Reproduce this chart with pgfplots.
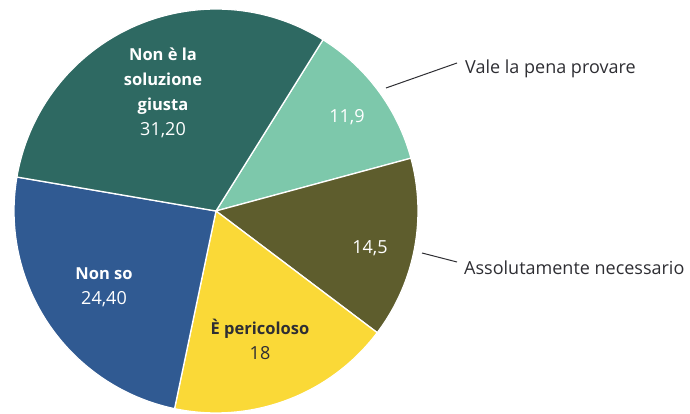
\documentclass[border=0pt]{standalone}
\usepackage{pgfplots}
\pgfplotsset{compat=1.18}
\usepackage{fontspec}
\setmainfont{Open Sans}
\definecolor{cDark}{HTML}{2E6962}
\definecolor{cLight}{HTML}{7DC8AB}
\definecolor{cOlive}{HTML}{5E5D2D}
\definecolor{cYellow}{HTML}{FAD937}
\definecolor{cBlue}{HTML}{305A92}
\definecolor{cText}{HTML}{2E2E33}
\begin{document}
\begin{tikzpicture}
% values (percent), clockwise from the top
\def\vVale{11.9}
\def\vAss{14.5}
\def\vPer{18}
\def\vNonSo{24.4}
\def\vNonE{31.2}
\pgfmathsetmacro\aS{58}
\pgfmathsetmacro\aA{\aS-3.6*\vVale}
\pgfmathsetmacro\aB{\aA-3.6*\vAss}
\pgfmathsetmacro\aC{\aB-3.6*\vPer}
\pgfmathsetmacro\aD{\aC-3.6*\vNonSo}
\pgfmathsetmacro\aE{\aD-3.6*\vNonE}
\begin{axis}[width=690pt,height=414pt,scale only axis,
  xmin=0,xmax=690,ymin=0,ymax=414,hide axis,clip=false]
\addplot[fill=cLight,draw=white,line width=1.3pt,line join=round,domain=\aA:\aS,samples=60] ({216+202*cos(x)},{203+202*sin(x)}) -- (axis cs:216,203) -- cycle;
\addplot[fill=cOlive,draw=white,line width=1.3pt,line join=round,domain=\aB:\aA,samples=60] ({216+202*cos(x)},{203+202*sin(x)}) -- (axis cs:216,203) -- cycle;
\addplot[fill=cYellow,draw=white,line width=1.3pt,line join=round,domain=\aC:\aB,samples=60] ({216+202*cos(x)},{203+202*sin(x)}) -- (axis cs:216,203) -- cycle;
\addplot[fill=cBlue,draw=white,line width=1.3pt,line join=round,domain=\aD:\aC,samples=80] ({216+202*cos(x)},{203+202*sin(x)}) -- (axis cs:216,203) -- cycle;
\addplot[fill=cDark,draw=white,line width=1.3pt,line join=round,domain=\aE:\aD,samples=100] ({216+202*cos(x)},{203+202*sin(x)}) -- (axis cs:216,203) -- cycle;

\node[text=white,align=center,font=\fontsize{16.5}{25}\selectfont] at (axis cs:163,321.5)
  {\bfseries Non è la\\\bfseries soluzione\\\bfseries giusta\\\fontsize{18}{25}\selectfont 31,20};
\node[text=white,align=center,font=\fontsize{16.5}{25}\selectfont] at (axis cs:104,126.5)
  {\bfseries Non so\\\fontsize{18}{25}\selectfont 24,40};
\node[text=cText,align=center,font=\fontsize{16.5}{25}\selectfont] at (axis cs:260,74.5)
  {\bfseries È pericoloso\\\fontsize{18}{25}\selectfont 18};
\node[text=white,font=\fontsize{18}{20}\selectfont] at (axis cs:347,297) {11,9};
\node[text=white,font=\fontsize{18}{20}\selectfont] at (axis cs:370,166) {14,5};
\draw[cText,line width=1pt] (axis cs:386,326) -- (axis cs:457,351);
\draw[cText,line width=1pt] (axis cs:422,161) -- (axis cs:457,152);
\node[text=cText,anchor=west,inner sep=0pt,font=\fontsize{18}{20}\selectfont] at (axis cs:465,345) {Vale la pena provare};
\node[text=cText,anchor=west,inner sep=0pt,font=\fontsize{18}{20}\selectfont] at (axis cs:464,146) {Assolutamente necessario};
\end{axis}
\pgfresetboundingbox
\path (current axis.south west) rectangle (current axis.north east);
\end{tikzpicture}
\end{document}
